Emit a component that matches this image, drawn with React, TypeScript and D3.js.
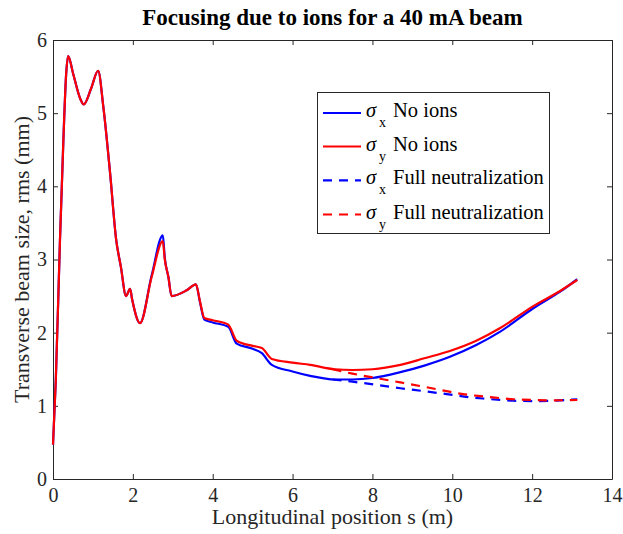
import React, { useEffect, useRef } from "react";
import * as d3 from "d3";

// ---- data ----
const sNoIons = [0, 0.07, 0.175, 0.26, 0.33, 0.38, 0.5, 0.68, 0.77, 0.95, 1.13, 1.26, 1.43, 1.58, 1.7, 1.83, 1.93, 1.98, 2.18, 2.47, 2.75, 2.8, 2.89, 2.97, 3.35, 3.58, 3.68, 3.79, 4.0, 4.39, 4.6, 5.0, 5.23, 5.48, 6.0, 6.44, 7.06, 7.5, 8.0, 8.7, 9.3, 9.94, 10.6, 11.19, 12.02, 12.7, 13.13];
const sigmaXNoIons = [0.47, 1.35, 3.27, 4.63, 5.54, 5.78, 5.55, 5.2, 5.12, 5.33, 5.58, 5.09, 4.18, 3.28, 2.9, 2.5, 2.6, 2.46, 2.13, 2.78, 3.33, 3.02, 2.76, 2.5, 2.58, 2.66, 2.42, 2.18, 2.14, 2.08, 1.85, 1.78, 1.72, 1.56, 1.47, 1.41, 1.36, 1.36, 1.38, 1.46, 1.55, 1.67, 1.83, 2.01, 2.33, 2.56, 2.73];
const sigmaYNoIons = [0.47, 1.35, 3.27, 4.63, 5.54, 5.78, 5.55, 5.2, 5.12, 5.33, 5.58, 5.09, 4.18, 3.28, 2.9, 2.5, 2.6, 2.46, 2.13, 2.76, 3.25, 3.0, 2.76, 2.5, 2.58, 2.66, 2.43, 2.2, 2.17, 2.11, 1.89, 1.82, 1.79, 1.64, 1.59, 1.56, 1.5, 1.49, 1.5, 1.56, 1.65, 1.75, 1.89, 2.06, 2.36, 2.57, 2.72];

const sNeutral = [7.0, 7.5, 8.19, 8.7, 9.3, 9.86, 10.4, 10.77, 11.53, 12.02, 12.5, 13.13];
const sigmaXNeutral = [1.36, 1.33, 1.28, 1.24, 1.2, 1.16, 1.12, 1.1, 1.07, 1.065, 1.07, 1.09];
const sigmaYNeutral = [1.5, 1.44, 1.37, 1.32, 1.26, 1.2, 1.15, 1.13, 1.09, 1.08, 1.075, 1.08];

const xTicks = [0, 2, 4, 6, 8, 10, 12, 14];
const yTicks = [0, 1, 2, 3, 4, 5, 6];

const legendSubs = ["x", "y", "x", "y"];
const legendLabels = ["No ions", "No ions", "Full neutralization", "Full neutralization"];

const title = "Focusing due to ions for a 40 mA beam";
const xLabel = "Longitudinal position s (m)";
const yLabel = "Transverse beam size, rms (mm)";

const FONT = "'Liberation Serif', 'Times New Roman', serif";
const AX = "#262626";

export default function App() {
  const ref = useRef<SVGSVGElement | null>(null);

  useEffect(() => {
    const svg = d3.select(ref.current);
    svg.selectAll("*").remove();
    const L = 53, R = 612, T = 40, B = 479;
    const x = d3.scaleLinear().domain([0, 14]).range([L, R]);
    const y = d3.scaleLinear().domain([0, 6]).range([B, T]);

    svg.append("rect").attr("width", 623).attr("height", 534).attr("fill", "#fff");

    // axes
    const styleAxis = (g: any) => {
      g.selectAll("path").attr("stroke", AX).attr("stroke-width", 1);
      g.selectAll("line").attr("stroke", AX).attr("stroke-width", 1);
      g.selectAll("text").attr("fill", AX).attr("font-family", FONT).attr("font-size", 20);
    };
    svg.append("g").attr("transform", `translate(0,${B})`)
      .call(d3.axisBottom(x).tickValues(xTicks).tickSize(-5).tickSizeOuter(0).tickPadding(9).tickFormat(d3.format("d")) as any)
      .call(styleAxis);
    svg.append("g").attr("transform", `translate(0,${T})`)
      .call(d3.axisTop(x).tickValues(xTicks).tickSize(-5).tickSizeOuter(0).tickFormat(() => "") as any)
      .call(styleAxis);
    svg.append("g").attr("transform", `translate(${L},0)`)
      .call(d3.axisLeft(y).tickValues(yTicks).tickSize(-5).tickSizeOuter(0).tickPadding(6).tickFormat(d3.format("d")) as any)
      .call(styleAxis);
    svg.append("g").attr("transform", `translate(${R},0)`)
      .call(d3.axisRight(y).tickValues(yTicks).tickSize(-5).tickSizeOuter(0).tickFormat(() => "") as any)
      .call(styleAxis);

    // lines
    const line = d3.line<[number, number]>().x((d) => x(d[0])).y((d) => y(d[1])).curve(d3.curveMonotoneX);
    const series = [
      { s: sNoIons, v: sigmaXNoIons, color: "#0000ff", dash: null },
      { s: sNoIons, v: sigmaYNoIons, color: "#ff0000", dash: null },
      { s: sNeutral, v: sigmaXNeutral, color: "#0000ff", dash: "9,7" },
      { s: sNeutral, v: sigmaYNeutral, color: "#ff0000", dash: "9,7" },
    ];
    series.forEach((sr) => {
      const pts = sr.s.map((s, i) => [s, sr.v[i]] as [number, number]);
      svg.append("path").attr("d", line(pts) as string).attr("fill", "none")
        .attr("stroke", sr.color).attr("stroke-width", 2.2)
        .attr("stroke-dasharray", sr.dash as any)
        .attr("stroke-linejoin", "round");
    });

    // title + labels
    svg.append("text").attr("x", (L + R) / 2).attr("y", 25).attr("text-anchor", "middle")
      .attr("font-family", FONT).attr("font-weight", "bold").attr("font-size", 23).attr("fill", "#000").text(title);
    svg.append("text").attr("x", (L + R) / 2).attr("y", 524).attr("text-anchor", "middle")
      .attr("font-family", FONT).attr("font-size", 22).attr("fill", AX).text(xLabel);
    svg.append("text").attr("transform", `translate(29,${(T + B) / 2}) rotate(-90)`).attr("text-anchor", "middle")
      .attr("font-family", FONT).attr("font-size", 22).attr("fill", AX).text(yLabel);

    // legend
    const lg = svg.append("g");
    lg.append("rect").attr("x", 317.5).attr("y", 92.5).attr("width", 232).attr("height", 141)
      .attr("fill", "#fff").attr("stroke", AX).attr("stroke-width", 1);
    const rowY = [113, 146.5, 180.3, 214.5];
    series.forEach((sr, i) => {
      const yy = rowY[i];
      lg.append("line").attr("x1", 323).attr("x2", 361).attr("y1", yy).attr("y2", yy)
        .attr("stroke", sr.color).attr("stroke-width", 2.2).attr("stroke-dasharray", sr.dash as any);
      lg.append("text").attr("x", 366).attr("y", yy + 4).attr("font-family", FONT).attr("font-style", "italic")
        .attr("font-size", 20.5).attr("fill", "#000").text("σ");
      lg.append("text").attr("x", 379).attr("y", yy + 14).attr("font-family", FONT)
        .attr("font-size", 14).attr("fill", "#000").text(legendSubs[i]);
      lg.append("text").attr("x", 393).attr("y", yy + 4).attr("font-family", FONT)
        .attr("font-size", 20.5).attr("fill", "#000").text(legendLabels[i]);
    });
  }, []);

  return (
    <svg ref={ref} width={623} height={534}
      style={{ position: "fixed", left: 0, top: 0, display: "block" }} />
  );
}
